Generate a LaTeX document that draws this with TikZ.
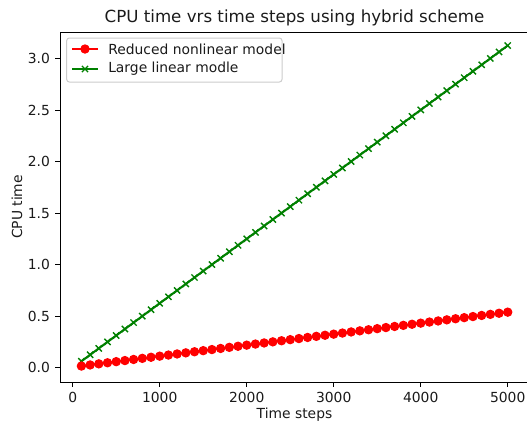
\documentclass[tikz,border=0pt]{standalone}
\usepackage{fontspec}
\setmainfont{DejaVu Sans}
\definecolor{mplgreen}{HTML}{008000}
\definecolor{mplred}{HTML}{FF0000}
\definecolor{legedge}{HTML}{CCCCCC}
\definecolor{txt}{HTML}{1A1A1A}
\tikzset{
  spine/.style={line width=0.75pt, black},
  tickmark/.style={line width=0.75pt, black},
  ticklabel/.style={font=\fontsize{10.4pt}{12pt}\selectfont, text=txt, inner sep=0pt},
  labeltext/.style={font=\fontsize{10.4pt}{12pt}\selectfont, text=txt, inner sep=0pt},
  titletext/.style={font=\fontsize{12.5pt}{14pt}\selectfont, text=txt, inner sep=0pt},
  redline/.style={mplred, line width=1.56pt},
  greenline/.style={mplgreen, line width=1.56pt},
  redmark/.style={mark=*, mark size=3.1pt, mark options={mplred, fill=mplred, line width=0.8pt}},
  greenmark/.style={mark=x, mark size=3.3pt, mark options={mplgreen, line width=1.04pt}},
}
\begin{document}
\begin{tikzpicture}[x=0.75pt, y=-0.75pt]
\useasboundingbox (0,0) rectangle (527,426);
% data curves
\draw[greenline, greenmark] plot[domain=100:5000, samples=50] ({72.7+0.087*\x}, {367.7-103*(0.000622*\x)});
\draw[redline, redmark] plot[domain=100:5000, samples=50] ({72.7+0.087*\x}, {367.7-103*(0.0054+0.0001057*\x)});
% spines
\draw[spine] (60,382) -- (529,382);
\draw[spine] (60,32) -- (529,32);
\draw[spine] (60,32) -- (60,382);
\draw[spine] (529,32) -- (529,382);
% x ticks
\foreach \t in {0,1000,2000,3000,4000,5000} {
  \draw[tickmark] ({72.7+0.087*\t},382) -- ({72.7+0.087*\t},386.9);
  \node[ticklabel, anchor=north] (xt\t) at ({72.7+0.087*\t},391.8) {\t};
}
% y ticks
\foreach \v/\lab in {0/0.0,0.5/0.5,1/1.0,1.5/1.5,2/2.0,2.5/2.5,3/3.0} {
  \draw[tickmark] (60,{367.7-103*\v}) -- (55.1,{367.7-103*\v});
  \node[ticklabel, anchor=east] at (50.2,{367.7-103*\v}) {\lab};
}
% axis labels and title
\node[labeltext] (xlabel) at (294.5,415) {Time steps};
\node[labeltext, rotate=90] (ylabel) at (17,207) {CPU time};
\node[titletext] (title) at (294.5,18) {CPU time vrs time steps using hybrid scheme};
% legend
\draw[legedge, line width=0.75pt, fill=white, fill opacity=0.8, rounded corners=2pt] (66.7,38) rectangle (282,82);
\draw[redline] (72,49) -- (98,49);
\draw[redline, redmark] plot coordinates {(85,49)};
\draw[greenline] (72,69) -- (98,69);
\draw[greenline, greenmark] plot coordinates {(85,69)};
\node[labeltext, anchor=west] (leg1) at (108,49) {Reduced nonlinear model};
\node[labeltext, anchor=west] (leg2) at (108,69) {Large linear modle};
\end{tikzpicture}
\end{document}
